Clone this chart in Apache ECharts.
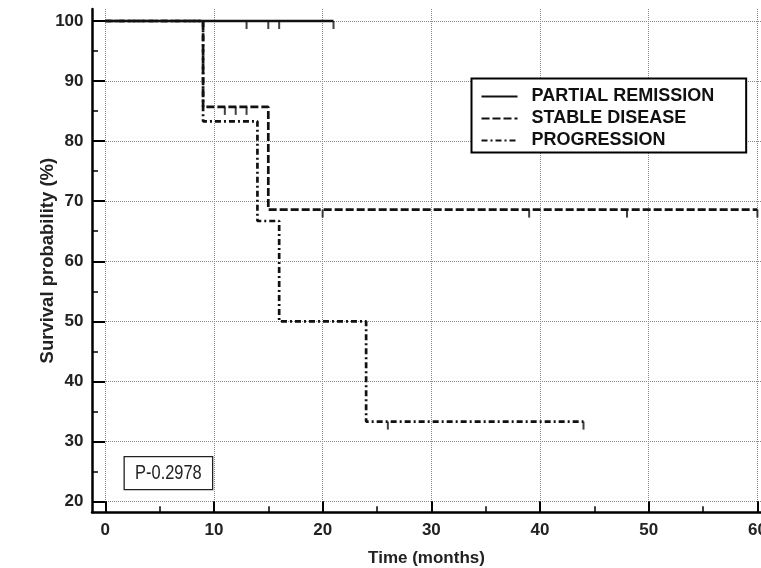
<!DOCTYPE html>
<html>
<head>
<meta charset="utf-8">
<script src="https://cdn.jsdelivr.net/npm/echarts@6.0.0/dist/echarts.min.js"></script>
<style>
html,body{margin:0;padding:0;background:#fff;}
#chart{width:761px;height:568px;}
</style>
</head>
<body>
<div id="chart"></div>
<script>
// ---- data ----
const seriesNames = ['PARTIAL REMISSION', 'STABLE DISEASE', 'PROGRESSION'];
// Kaplan-Meier step curves (time in months, survival %)
const prTimes = [0, 21];
const prSurv = [100, 100];
const sdTimes = [0, 9, 15, 60];
const sdSurv = [100, 85.7, 68.6, 68.6];
const pgTimes = [0, 9, 14, 16, 24, 44];
const pgSurv = [100, 83.3, 66.7, 50, 33.3, 33.3];
// censored observations
const prCensT = [13, 15, 16, 21];
const prCensS = [100, 100, 100, 100];
const sdCensT = [11, 12, 13, 20, 39, 48, 60];
const sdCensS = [85.7, 85.7, 85.7, 68.6, 68.6, 68.6, 68.6];
const pgCensT = [26, 44];
const pgCensS = [33.3, 33.3];
// axis ticks
const xMajor = [0, 10, 20, 30, 40, 50, 60];
const xMinor = [5, 15, 25, 35, 45, 55];
const yMajor = [20, 30, 40, 50, 60, 70, 80, 90, 100];
const yMinor = [25, 35, 45, 55, 65, 75, 85, 95];
const pText = 'P-0.2978';

const pairs = (t, s) => t.map((v, i) => [v, s[i]]);
const ink = '#111';
const font = '"Liberation Sans", Arial, sans-serif';
const dashSD = [8, 3];
const dashPG = [6, 3, 2, 3];

const chart = echarts.init(document.getElementById('chart'), null, {renderer: 'canvas'});

const xBase = {type: 'value', min: -1.22, max: 60.33, gridIndex: 0};
const yBase = {type: 'value', min: 18.2, max: 102, gridIndex: 0};

function censor(name, t, s) {
  return {
    name: name, type: 'scatter', data: pairs(t, s),
    symbol: 'rect', symbolSize: [2, 8], symbolOffset: [0, 4],
    itemStyle: {color: ink}, silent: true, z: 5
  };
}

chart.setOption({
  animation: false,
  backgroundColor: '#fff',
  grid: {left: 92, right: 0, top: 9, bottom: 55.7, containLabel: false, outerBoundsMode: 'none'},
  graphic: [{
    type: 'group', left: 123.5, top: 456,
    children: [
      {type: 'rect', shape: {x: 0, y: 0, width: 88.5, height: 33},
        style: {fill: '#fff', stroke: '#222', lineWidth: 1.3}},
      {type: 'text', x: 44.25, y: 16.5, scaleX: 0.82, originX: 0,
        style: {text: pText, fill: '#222', font: 'normal 20px "Liberation Sans", Arial, sans-serif',
          align: 'center', verticalAlign: 'middle'}}
    ]
  }],
  legend: {
    data: seriesNames, orient: 'vertical', left: 471.5, top: 78.5,
    borderColor: '#000', borderWidth: 2, padding: [9, 32, 3, 9],
    itemWidth: 36, itemHeight: 14, itemGap: 4, backgroundColor: '#fff',
    itemStyle: {opacity: 0},
    textStyle: {fontFamily: font, fontSize: 18, fontWeight: 'bold', color: ink, padding: [0, 0, 0, 9]}
  },
  xAxis: [
    Object.assign({}, xBase, {
      position: 'bottom',
      name: 'Time (months)', nameLocation: 'middle', nameGap: 38, nameMoveOverlap: false,
      nameTextStyle: {fontFamily: font, fontSize: 17, fontWeight: 'bold', color: '#222'},
      axisLine: {onZero: false, lineStyle: {color: '#000', width: 2.5}},
      axisTick: {inside: true, length: 11, customValues: xMajor, lineStyle: {color: '#000', width: 2}},
      axisLabel: {customValues: xMajor, margin: 10, fontFamily: font, fontSize: 17, fontWeight: 'bold', color: '#222'},
      splitLine: {show: true, lineStyle: {color: '#888', type: 'dotted', width: 1}}
    }),
    Object.assign({}, xBase, {
      position: 'bottom',
      axisLine: {show: false, onZero: false},
      axisTick: {inside: true, length: 6, customValues: xMinor, lineStyle: {color: '#000', width: 1.5}},
      axisLabel: {show: false},
      splitLine: {show: false}
    })
  ],
  yAxis: [
    Object.assign({}, yBase, {
      position: 'left',
      name: 'Survival probability (%)', nameLocation: 'middle', nameGap: 35, nameMoveOverlap: false,
      nameTextStyle: {fontFamily: font, fontSize: 18.5, fontWeight: 'bold', color: '#222'},
      axisLine: {show: true, onZero: false, lineStyle: {color: '#000', width: 2.5}},
      axisTick: {show: true, inside: true, length: 13, customValues: yMajor, lineStyle: {color: '#000', width: 2}},
      axisLabel: {customValues: yMajor, margin: 8.5, fontFamily: font, fontSize: 17, fontWeight: 'bold', color: '#222'},
      splitLine: {show: true, lineStyle: {color: '#888', type: 'dotted', width: 1}}
    }),
    Object.assign({}, yBase, {
      position: 'left',
      axisLine: {show: false, onZero: false},
      axisTick: {show: true, inside: true, length: 6, customValues: yMinor, lineStyle: {color: '#000', width: 1.5}},
      axisLabel: {show: false},
      splitLine: {show: false}
    })
  ],
  series: [
    {name: seriesNames[0], type: 'line', step: 'end', data: pairs(prTimes, prSurv), symbol: 'none',
      lineStyle: {color: ink, width: 2.7, type: 'solid'}, itemStyle: {color: ink}, z: 4},
    {name: seriesNames[1], type: 'line', step: 'end', data: pairs(sdTimes, sdSurv), symbol: 'none',
      lineStyle: {color: ink, width: 2.7, type: dashSD}, itemStyle: {color: ink}, z: 3},
    {name: seriesNames[2], type: 'line', step: 'end', data: pairs(pgTimes, pgSurv), symbol: 'none',
      lineStyle: {color: ink, width: 2.7, type: dashPG}, itemStyle: {color: ink}, z: 3},
    censor('PR censored', prCensT, prCensS),
    censor('SD censored', sdCensT, sdCensS),
    censor('PG censored', pgCensT, pgCensS)
  ]
});
</script>
</body>
</html>
